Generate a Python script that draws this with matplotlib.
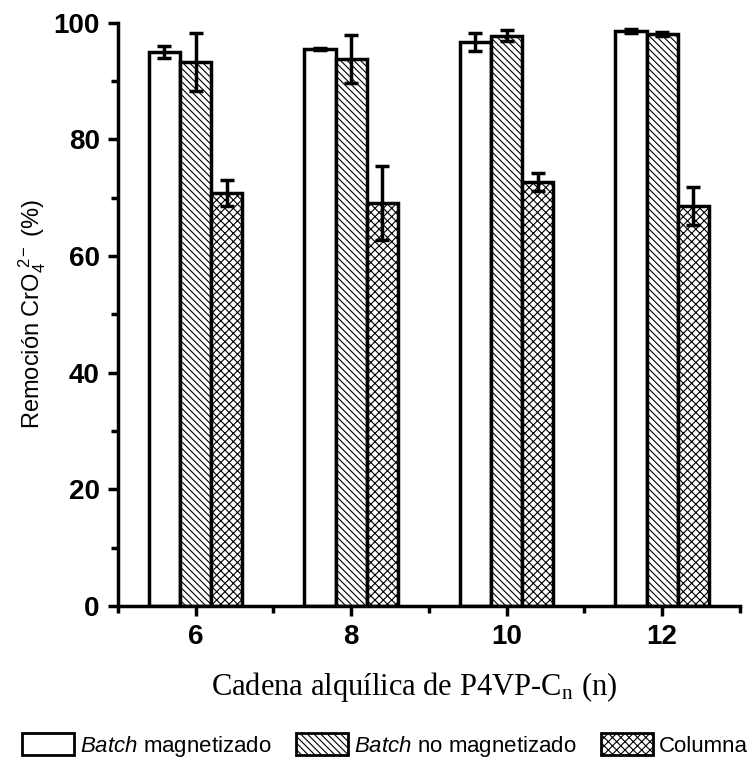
import numpy as np
import matplotlib
matplotlib.use("Agg")
import matplotlib.pyplot as plt
from matplotlib.patches import Patch
from matplotlib.ticker import MultipleLocator, FixedLocator

plt.rcParams['font.family'] = ['Liberation Sans', 'DejaVu Sans']
plt.rcParams['mathtext.fontset'] = 'custom'
plt.rcParams['mathtext.rm'] = 'Liberation Sans'
plt.rcParams['mathtext.it'] = 'Liberation Sans:italic'
plt.rcParams['mathtext.bf'] = 'Liberation Sans:bold'
plt.rcParams['hatch.linewidth'] = 0.8

# ---------- Data ----------
cadena = [6, 8, 10, 12]
series = ["Batch magnetizado", "Batch no magnetizado", "Columna"]
magnetizado = [95.0, 95.5, 96.7, 98.6]
magnetizado_err = [1.0, 0.2, 1.5, 0.3]
no_magnetizado = [93.3, 93.8, 97.8, 98.1]
no_magnetizado_err = [5.0, 4.1, 0.9, 0.3]
columna = [70.8, 69.1, 72.7, 68.6]
columna_err = [2.2, 6.3, 1.5, 3.3]

values = [magnetizado, no_magnetizado, columna]
errors = [magnetizado_err, no_magnetizado_err, columna_err]
hatches = ["", "\\\\\\\\\\", "xxxx"]
labels = [r"$\mathit{Batch}$ magnetizado", r"$\mathit{Batch}$ no magnetizado", "Columna"]

# ---------- Figure ----------
fig = plt.figure(figsize=(7.55, 7.61), dpi=100)
ax = fig.add_axes([0.156, 0.2037, 0.824, 0.7663])

width = 0.4
x = np.array(cadena, dtype=float)
for i, (vals, errs, h) in enumerate(zip(values, errors, hatches)):
    ax.bar(x + (i - 1) * width, vals, width, color="white", edgecolor="black",
           linewidth=2.5, hatch=h, zorder=2)
    ax.errorbar(x + (i - 1) * width, vals, yerr=errs, fmt="none", ecolor="black",
                elinewidth=2.5, capsize=5, capthick=2.5, zorder=3)

ax.set_xlim(5, 13)
ax.set_ylim(0, 100)
ax.xaxis.set_major_locator(FixedLocator(cadena))
ax.xaxis.set_minor_locator(FixedLocator([5, 7, 9, 11, 13]))
ax.yaxis.set_major_locator(MultipleLocator(20))
ax.yaxis.set_minor_locator(MultipleLocator(10))

for side in ["top", "right"]:
    ax.spines[side].set_visible(False)
for side in ["left", "bottom"]:
    ax.spines[side].set_linewidth(2.5)

ax.tick_params(which="major", direction="out", length=7, width=2.5,
               labelsize=20, pad=6)
ax.tick_params(which="minor", direction="out", length=5, width=2.5)
for lab in ax.get_xticklabels() + ax.get_yticklabels():
    lab.set_fontweight("bold")

ax.set_ylabel(r"Remoción CrO$_4^{\ 2-}$ (%)", fontsize=17)
ax.yaxis.set_label_coords(-0.112, 0.5)

fig.text(0.548, 0.087, r"Cadena alquílica de P4VP-C$_\mathregular{n}$ (n)",
         fontsize=22, family="Liberation Serif", math_fontfamily="stix",
         ha="center", va="baseline")

# ---------- Legend ----------
handles = [Patch(facecolor="white", edgecolor="black", hatch=h, linewidth=2)
           for h in hatches]
fig.legend(handles, labels, loc="lower center", bbox_to_anchor=(0.51, 0.0),
           ncol=3, frameon=False, fontsize=16, handlelength=2.35,
           handleheight=1.15, handletextpad=0.27, columnspacing=1.1,
           borderaxespad=0.0, borderpad=0.1)

fig.savefig("out.png", dpi=100, facecolor="white")
